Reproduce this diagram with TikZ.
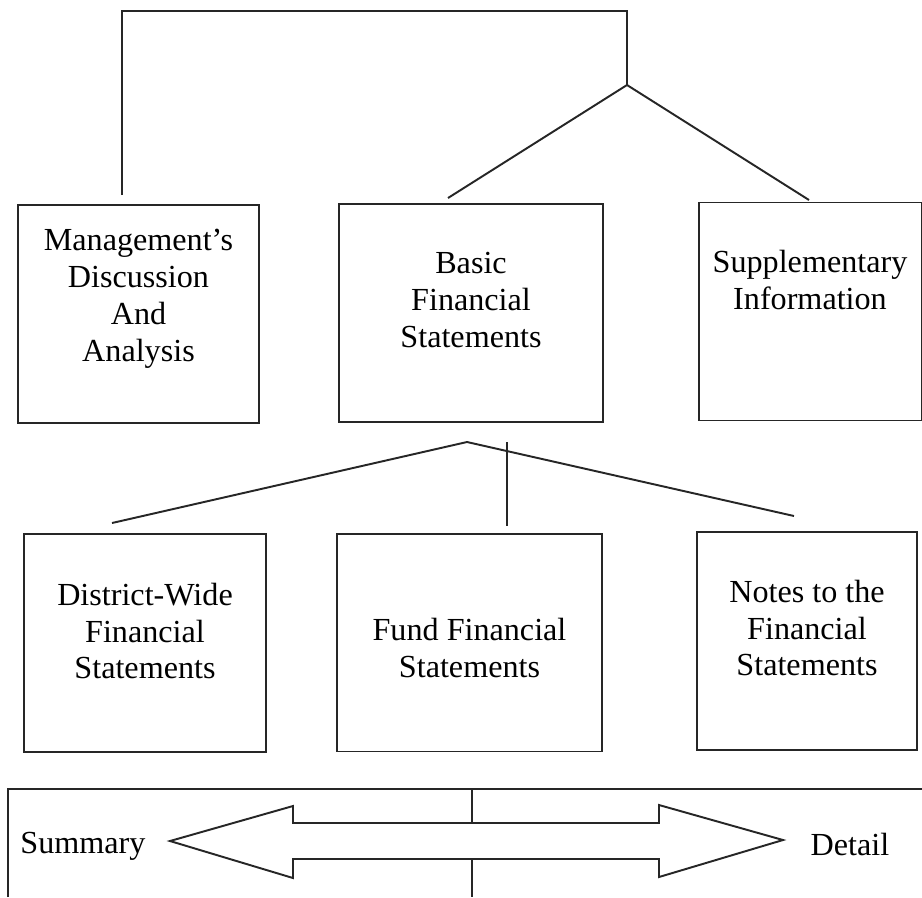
\documentclass[tikz,border=0pt]{standalone}
\usepackage{fontspec}
\setmainfont{Liberation Serif}
\usetikzlibrary{positioning}
\tikzset{every node/.style={font=\fontsize{18.3}{21}\selectfont},
         box/.style={draw=black!85,line width=1.1pt,inner sep=0pt,minimum height=4.36cm},
         boxtext/.style={align=center,inner sep=0pt},
         link/.style={draw=black!85,line width=1.1pt},
         }
\begin{document}
\begin{tikzpicture}[x=0.02cm,y=-0.02cm]
		\useasboundingbox (0,0) rectangle (922,897);
		% upper row
		\node[box,minimum width=4.82cm] (mda) at (138.5,314) {};
		\node[box,minimum width=5.28cm] (bfs) at (471,313) {};
		\node[box,minimum width=4.46cm] (sup) at (810.5,311.5) {};
		\node[boxtext] (mdatxt) at (138.5,299) {Management's\\Discussion\\And\\Analysis};
		\node[boxtext] (bfstxt) at (471,300) {Basic\\Financial\\Statements};
		\node[boxtext] (suptxt) at (810,280) {Supplementary\\Information};
		% lower row
		\node[box,minimum width=4.84cm] (dws) at (145,643) {};
		\node[box,minimum width=5.30cm] (ffs) at (469.5,642.5) {};
		\node[box,minimum width=4.40cm] (nfs) at (807,641) {};
		\node[boxtext] (dwstxt) at (145,631) {District-Wide\\Financial\\Statements};
		\node[boxtext] (ffstxt) at (469.5,648) {Fund Financial\\Statements};
		\node[boxtext] (nfstxt) at (807,628) {Notes to the\\Financial\\Statements};
		% connectors
		\coordinate (mdaend) at (122,195);
		\coordinate (ridge) at (627,11);
		\coordinate (apex) at (627,85);
		\coordinate (bfsend) at (448,198);
		\coordinate (supend) at (809,200);
		\draw[link] (mdaend) |- (ridge) -- (apex);
		\draw[link] (bfsend) -- (apex) -- (supend);
		\coordinate (fork) at (467,442);
		\coordinate (dwsend) at (112,523);
		\coordinate (nfsend) at (794,516);
		\coordinate (ffstop) at (507,442);
		\coordinate (ffsend) at (507,526);
		\draw[link] (dwsend) -- (fork) -- (nfsend);
		\draw[link] (ffstop) -- (ffsend);
		% scale strip
		\coordinate (frameleft) at (8,897);
		\coordinate (frameright) at (922,789);
		\draw[link] (frameleft) |- (frameright);
		\draw[link] (170,841) -- (293,806) -- (293,823) -- (659,823) -- (659,805)
			-- (783,840) -- (659,877) -- (659,859) -- (293,859) -- (293,878) -- cycle;
		\coordinate (midtop) at (472,789);
		\coordinate (shafttop) at (472,823);
		\coordinate (shaftbot) at (472,859);
		\coordinate (midbot) at (472,897);
		\draw[link] (midtop) -- (shafttop);
		\draw[link] (shaftbot) -- (midbot);
		\node[boxtext] (summary) at (83,846) {Summary};
		\node[boxtext] (detail) at (850,844) {Detail};
\end{tikzpicture}
\end{document}
